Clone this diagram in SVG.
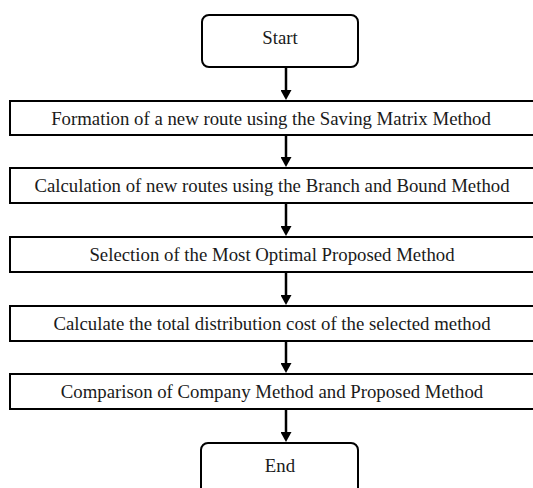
<svg xmlns="http://www.w3.org/2000/svg" width="533" height="488" viewBox="0 0 533 488">
<style>
.box{fill:#fff;stroke:#000;stroke-width:2}
.term{fill:#fff;stroke:#000;stroke-width:2}
.lbl{font-family:"Liberation Serif","Times New Roman",serif;font-size:18.8px;fill:#1a1a1a;text-anchor:middle}
.conn{stroke:#000;stroke-width:2.5;fill:none}
</style>
<defs>
<marker id="ah" markerUnits="userSpaceOnUse" viewBox="0 0 10 11" markerWidth="10" markerHeight="11" refX="2" refY="5.5" orient="auto">
<path d="M0,0 L10,5.5 L0,11 Z" fill="#000"/>
</marker>
</defs>
<rect width="533" height="488" fill="#fff"/>
<g id="connectors">
<line class="conn" x1="286" y1="67" x2="286" y2="92" marker-end="url(#ah)"/>
<line class="conn" x1="286" y1="135" x2="286" y2="159" marker-end="url(#ah)"/>
<line class="conn" x1="286" y1="203" x2="286" y2="228" marker-end="url(#ah)"/>
<line class="conn" x1="286" y1="272" x2="286" y2="297" marker-end="url(#ah)"/>
<line class="conn" x1="286" y1="341" x2="286" y2="365" marker-end="url(#ah)"/>
<line class="conn" x1="286" y1="409" x2="286" y2="434" marker-end="url(#ah)"/>
</g>
<g id="start">
<rect class="term" x="202" y="15" width="156" height="52" rx="7"/>
<text class="lbl" x="280" y="44">Start</text>
</g>
<g id="step1">
<rect class="box" x="10" y="101" width="530" height="34"/>
<text class="lbl" x="271" y="125">Formation of a new route using the Saving Matrix Method</text>
</g>
<g id="step2">
<rect class="box" x="10" y="168" width="530" height="35"/>
<text class="lbl" x="272" y="192">Calculation of new routes using the Branch and Bound Method</text>
</g>
<g id="step3">
<rect class="box" x="10" y="237" width="530" height="35"/>
<text class="lbl" x="272" y="261">Selection of the Most Optimal Proposed Method</text>
</g>
<g id="step4">
<rect class="box" x="10" y="306" width="530" height="35"/>
<text class="lbl" x="272" y="330">Calculate the total distribution cost of the selected method</text>
</g>
<g id="step5">
<rect class="box" x="10" y="374" width="530" height="35"/>
<text class="lbl" x="272" y="398">Comparison of Company Method and Proposed Method</text>
</g>
<g id="end">
<rect class="term" x="201" y="443" width="157" height="60" rx="7"/>
<text class="lbl" x="280" y="472">End</text>
</g>
</svg>
